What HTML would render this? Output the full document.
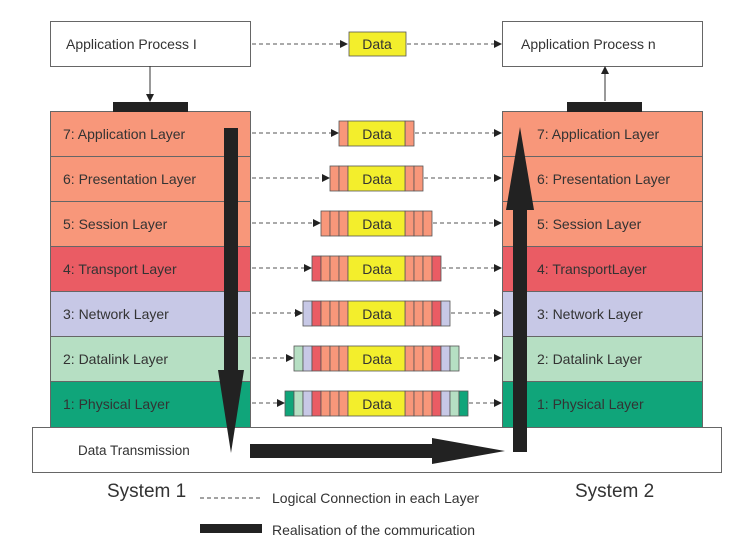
<!DOCTYPE html>
<html><head><meta charset="utf-8"><style>
html,body{margin:0;padding:0;background:#fff;}
svg{display:block;font-family:"Liberation Sans",sans-serif;}
</style></head><body>
<svg width="755" height="548" viewBox="0 0 755 548" xmlns="http://www.w3.org/2000/svg">
<defs>
<marker id="ah" markerWidth="8" markerHeight="8" refX="7" refY="4" orient="auto" markerUnits="userSpaceOnUse">
<path d="M0,0 L8,4 L0,8 z" fill="#222"/></marker>
</defs>
<g stroke="#666" stroke-width="1">
<rect x="50.5" y="21.5" width="200" height="45" fill="#fff"/>
<rect x="502.5" y="21.5" width="200" height="45" fill="#fff"/>
<rect x="32.5" y="427.5" width="689" height="45" fill="#fff"/>
<rect x="50.5" y="111.5" width="200" height="45" fill="#f8977a"/>
<rect x="50.5" y="156.5" width="200" height="45" fill="#f8977a"/>
<rect x="50.5" y="201.5" width="200" height="45" fill="#f8977a"/>
<rect x="50.5" y="246.5" width="200" height="45" fill="#ea5c64"/>
<rect x="50.5" y="291.5" width="200" height="45" fill="#c7c8e6"/>
<rect x="50.5" y="336.5" width="200" height="45" fill="#b6dfc3"/>
<rect x="50.5" y="381.5" width="200" height="46" fill="#10a57a"/>
<rect x="502.5" y="111.5" width="200" height="45" fill="#f8977a"/>
<rect x="502.5" y="156.5" width="200" height="45" fill="#f8977a"/>
<rect x="502.5" y="201.5" width="200" height="45" fill="#f8977a"/>
<rect x="502.5" y="246.5" width="200" height="45" fill="#ea5c64"/>
<rect x="502.5" y="291.5" width="200" height="45" fill="#c7c8e6"/>
<rect x="502.5" y="336.5" width="200" height="45" fill="#b6dfc3"/>
<rect x="502.5" y="381.5" width="200" height="46" fill="#10a57a"/>
</g>
<rect x="113" y="102" width="75" height="10" fill="#222"/>
<rect x="567" y="102" width="75" height="10" fill="#222"/>
<line x1="150" y1="66" x2="150" y2="101" stroke="#333" stroke-width="1" marker-end="url(#ah)"/>
<line x1="605" y1="101" x2="605" y2="67" stroke="#333" stroke-width="1" marker-end="url(#ah)"/>

<g font-size="14" fill="#333">
<text x="66" y="49">Application Process I</text>
<text x="521" y="49">Application Process n</text>
<text x="63" y="139">7: Application Layer</text>
<text x="63" y="184">6: Presentation Layer</text>
<text x="63" y="229">5: Session Layer</text>
<text x="63" y="274">4: Transport Layer</text>
<text x="63" y="319">3: Network Layer</text>
<text x="63" y="364">2: Datalink Layer</text>
<text x="63" y="409">1: Physical Layer</text>
<text x="537" y="139">7: Application Layer</text>
<text x="537" y="184">6: Presentation Layer</text>
<text x="537" y="229">5: Session Layer</text>
<text x="537" y="274">4: TransportLayer</text>
<text x="537" y="319">3: Network Layer</text>
<text x="537" y="364">2: Datalink Layer</text>
<text x="537" y="409">1: Physical Layer</text>
<text x="78" y="455" font-size="13.5">Data Transmission</text>
</g>

<g stroke="#555" stroke-width="1" stroke-dasharray="4,3" fill="none">
<line x1="252" y1="44" x2="347" y2="44" marker-end="url(#ah)"/>
<line x1="407" y1="44" x2="501" y2="44" marker-end="url(#ah)"/>
<line x1="252" y1="133" x2="338" y2="133" marker-end="url(#ah)"/>
<line x1="415" y1="133" x2="501" y2="133" marker-end="url(#ah)"/>
<line x1="252" y1="178" x2="329" y2="178" marker-end="url(#ah)"/>
<line x1="424" y1="178" x2="501" y2="178" marker-end="url(#ah)"/>
<line x1="252" y1="223" x2="320" y2="223" marker-end="url(#ah)"/>
<line x1="433" y1="223" x2="501" y2="223" marker-end="url(#ah)"/>
<line x1="252" y1="268" x2="311" y2="268" marker-end="url(#ah)"/>
<line x1="442" y1="268" x2="501" y2="268" marker-end="url(#ah)"/>
<line x1="252" y1="313" x2="302" y2="313" marker-end="url(#ah)"/>
<line x1="451" y1="313" x2="501" y2="313" marker-end="url(#ah)"/>
<line x1="252" y1="358" x2="293" y2="358" marker-end="url(#ah)"/>
<line x1="460" y1="358" x2="501" y2="358" marker-end="url(#ah)"/>
<line x1="252" y1="403" x2="284" y2="403" marker-end="url(#ah)"/>
<line x1="469" y1="403" x2="501" y2="403" marker-end="url(#ah)"/>
</g>

<g stroke="#555" stroke-width="0.8">
<rect x="349" y="32" width="57" height="24" fill="#f3ee2c"/>
<rect x="339" y="121" width="9" height="25" fill="#f8977a"/><rect x="405" y="121" width="9" height="25" fill="#f8977a"/>
<rect x="348" y="121" width="57" height="25" fill="#f3ee2c"/>
<rect x="330" y="166" width="9" height="25" fill="#f8977a"/><rect x="339" y="166" width="9" height="25" fill="#f8977a"/>
<rect x="405" y="166" width="9" height="25" fill="#f8977a"/><rect x="414" y="166" width="9" height="25" fill="#f8977a"/>
<rect x="348" y="166" width="57" height="25" fill="#f3ee2c"/>
<rect x="321" y="211" width="9" height="25" fill="#f8977a"/><rect x="330" y="211" width="9" height="25" fill="#f8977a"/><rect x="339" y="211" width="9" height="25" fill="#f8977a"/>
<rect x="405" y="211" width="9" height="25" fill="#f8977a"/><rect x="414" y="211" width="9" height="25" fill="#f8977a"/><rect x="423" y="211" width="9" height="25" fill="#f8977a"/>
<rect x="348" y="211" width="57" height="25" fill="#f3ee2c"/>
<rect x="312" y="256" width="9" height="25" fill="#ea5c64"/><rect x="321" y="256" width="9" height="25" fill="#f8977a"/><rect x="330" y="256" width="9" height="25" fill="#f8977a"/><rect x="339" y="256" width="9" height="25" fill="#f8977a"/>
<rect x="405" y="256" width="9" height="25" fill="#f8977a"/><rect x="414" y="256" width="9" height="25" fill="#f8977a"/><rect x="423" y="256" width="9" height="25" fill="#f8977a"/><rect x="432" y="256" width="9" height="25" fill="#ea5c64"/>
<rect x="348" y="256" width="57" height="25" fill="#f3ee2c"/>
<rect x="303" y="301" width="9" height="25" fill="#c7c8e6"/><rect x="312" y="301" width="9" height="25" fill="#ea5c64"/><rect x="321" y="301" width="9" height="25" fill="#f8977a"/><rect x="330" y="301" width="9" height="25" fill="#f8977a"/><rect x="339" y="301" width="9" height="25" fill="#f8977a"/>
<rect x="405" y="301" width="9" height="25" fill="#f8977a"/><rect x="414" y="301" width="9" height="25" fill="#f8977a"/><rect x="423" y="301" width="9" height="25" fill="#f8977a"/><rect x="432" y="301" width="9" height="25" fill="#ea5c64"/><rect x="441" y="301" width="9" height="25" fill="#c7c8e6"/>
<rect x="348" y="301" width="57" height="25" fill="#f3ee2c"/>
<rect x="294" y="346" width="9" height="25" fill="#b6dfc3"/><rect x="303" y="346" width="9" height="25" fill="#c7c8e6"/><rect x="312" y="346" width="9" height="25" fill="#ea5c64"/><rect x="321" y="346" width="9" height="25" fill="#f8977a"/><rect x="330" y="346" width="9" height="25" fill="#f8977a"/><rect x="339" y="346" width="9" height="25" fill="#f8977a"/>
<rect x="405" y="346" width="9" height="25" fill="#f8977a"/><rect x="414" y="346" width="9" height="25" fill="#f8977a"/><rect x="423" y="346" width="9" height="25" fill="#f8977a"/><rect x="432" y="346" width="9" height="25" fill="#ea5c64"/><rect x="441" y="346" width="9" height="25" fill="#c7c8e6"/><rect x="450" y="346" width="9" height="25" fill="#b6dfc3"/>
<rect x="348" y="346" width="57" height="25" fill="#f3ee2c"/>
<rect x="285" y="391" width="9" height="25" fill="#10a57a"/><rect x="294" y="391" width="9" height="25" fill="#b6dfc3"/><rect x="303" y="391" width="9" height="25" fill="#c7c8e6"/><rect x="312" y="391" width="9" height="25" fill="#ea5c64"/><rect x="321" y="391" width="9" height="25" fill="#f8977a"/><rect x="330" y="391" width="9" height="25" fill="#f8977a"/><rect x="339" y="391" width="9" height="25" fill="#f8977a"/>
<rect x="405" y="391" width="9" height="25" fill="#f8977a"/><rect x="414" y="391" width="9" height="25" fill="#f8977a"/><rect x="423" y="391" width="9" height="25" fill="#f8977a"/><rect x="432" y="391" width="9" height="25" fill="#ea5c64"/><rect x="441" y="391" width="9" height="25" fill="#c7c8e6"/><rect x="450" y="391" width="9" height="25" fill="#b6dfc3"/><rect x="459" y="391" width="9" height="25" fill="#10a57a"/>
<rect x="348" y="391" width="57" height="25" fill="#f3ee2c"/>
</g>
<g font-size="14" fill="#333" text-anchor="middle">
<text x="377" y="49">Data</text>
<text x="377" y="139">Data</text>
<text x="377" y="184">Data</text>
<text x="377" y="229">Data</text>
<text x="377" y="274">Data</text>
<text x="377" y="319">Data</text>
<text x="377" y="364">Data</text>
<text x="377" y="409">Data</text>
</g>

<g fill="#222">
<polygon points="224,128 238,128 238,370 244,370 231,453 218,370 224,370"/>
<polygon points="250,444 432,444 432,438 505,451 432,464 432,458 250,458"/>
<polygon points="513,452 527,452 527,210 534,210 520,127 506,210 513,210"/>
</g>

<g fill="#333">
<text x="107" y="497" font-size="19">System 1</text>
<text x="575" y="497" font-size="19">System 2</text>
<text x="272" y="503" font-size="14">Logical Connection  in  each Layer</text>
<text x="272" y="535" font-size="14">Realisation  of the  commurication</text>
</g>
<line x1="200" y1="498" x2="262" y2="498" stroke="#444" stroke-width="1" stroke-dasharray="4,3"/>
<rect x="200" y="524" width="62" height="9" fill="#222"/>
</svg>
</body></html>
